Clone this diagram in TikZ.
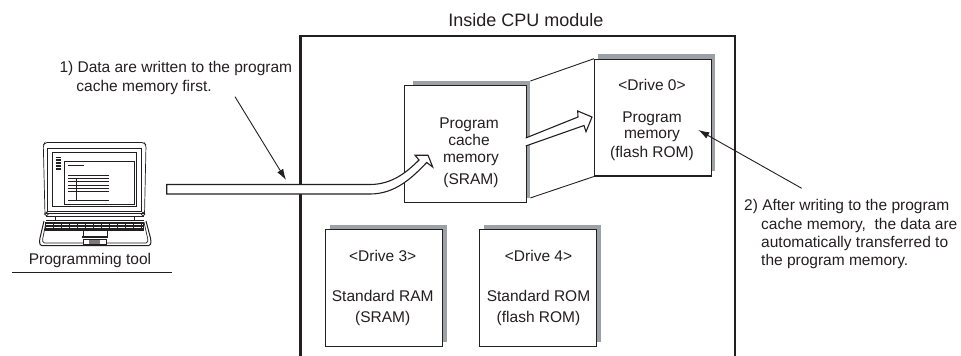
\documentclass[tikz,border=0pt]{standalone}
\usepackage{fontspec}
\setmainfont{Liberation Sans}
\usetikzlibrary{arrows.meta}
\definecolor{ink}{HTML}{231F20}
\definecolor{shade}{HTML}{9BA1A6}
\tikzset{
  x=1pt,y=-1pt,
  every node/.style={text=ink},
  frame/.style={draw=ink,line width=2.3pt},
  memorybox/.style={draw=ink,line width=1.1pt,fill=white,minimum width=#1,minimum height=116.7pt,inner sep=0pt},
  shadowbox/.style={fill=shade,draw=none,minimum width=117pt,minimum height=116.5pt,inner sep=0pt},
  caption/.style={font=\fontsize{15.5}{17}\selectfont,align=center,inner sep=0pt},
  note/.style={font=\fontsize{15.5}{18.4}\selectfont,align=left,inner sep=0pt,anchor=north west},
  leader/.style={draw=ink,line width=0.9pt,-{Latex[length=11pt,width=7pt]}},
  thin line/.style={draw=ink,line width=0.9pt},
  hollow/.style={draw=ink,line width=1.1pt,fill=white,line join=miter},
  lap/.style={draw=ink,line width=0.7pt},
  lapthick/.style={draw=ink,line width=1pt}
}
\begin{document}
\begin{tikzpicture}
\useasboundingbox (0,0) rectangle (961,356);
% CPU frame, open at the lower edge of the picture
\node[inner sep=0pt,font=\fontsize{18}{20}\selectfont] (title) at (526,20.2) {Inside CPU module};
\coordinate (c1) at (300.5,356);
\coordinate (c2) at (300.5,36);
\coordinate (c3) at (735,36);
\coordinate (c4) at (735,356);
\draw[frame] (c1) -- (c2) -- (c3) -- (c4);
% shadows
\node[shadowbox,anchor=north west] (s1) at (413,81) {};
\node[shadowbox,anchor=north west] (s0) at (598,54) {};
\node[shadowbox,anchor=north west] (s3) at (330,225) {};
\node[shadowbox,anchor=north west] (s4) at (484,225) {};
% boxes
\node[memorybox=122pt,anchor=north west] (cache) at (403.7,85) {};
\node[memorybox=116.5pt,anchor=north west] (prog) at (594,58.7) {};
\node[memorybox=116.5pt,anchor=north west] (ram) at (325.3,229.2) {};
\node[memorybox=116.5pt,anchor=north west] (rom) at (479.3,229.2) {};
\draw[thin line] (s1.north east) -- (prog.north west);
\draw[thin line] (s1.south east) -- (prog.south west);
% box text
\node[caption] (tcache) at (469,153) {Program\\cache\\\hspace*{4pt}memory\\[5pt]\hspace*{4pt}(SRAM)};
\node[caption] (tprog) at (652,119.7) {<Drive 0>\\[14.7pt]Program\hspace*{3pt}\\[-0.7pt]memory\\[1.7pt](flash ROM)};
\node[caption] (tram) at (382.7,288) {<Drive 3>\\[23pt]Standard RAM\\[4pt](SRAM)};
\node[caption] (trom) at (538.5,288) {<Drive 4>\\[23pt]Standard ROM\hspace*{4pt}\\[4pt](flash ROM)};
% hollow arrow between memories
\coordinate (h1) at (525.7,138);
\coordinate (h2) at (578,117);
\coordinate (h3) at (577.7,111);
\coordinate (h4) at (592,117);
\coordinate (h5) at (586,131.7);
\coordinate (h6) at (584,125.5);
\coordinate (h7) at (525.7,146);
\draw[hollow] (h1) -- (h2) -- (h3) -- (h4) -- (h5) -- (h6) -- (h7);
% big curved arrow
\coordinate (b1) at (166.7,184.5);
\coordinate (b2) at (370,184.5);
\coordinate (b3) at (419,160);
\coordinate (b4) at (415,155.2);
\coordinate (b5) at (428,155.2);
\coordinate (b6) at (432.7,167);
\coordinate (b7) at (426.7,162.5);
\coordinate (b8) at (370,194);
\coordinate (b9) at (166.7,194);
\draw[hollow] (b1) -- (b2) .. controls (392,184.5) and (407,172) .. (b3) -- (b4) -- (b5) -- (b6) -- (b7) .. controls (412,178) and (395,194) .. (b8) -- (b9) -- cycle;
% notes
\node[note] (n1) at (59.3,61.2) {1) Data are written to the program\\\hspace*{17pt}cache memory first.};
\node[note] (n2) at (744,199.2) {2) After writing to the program\\\hspace*{17pt}cache memory,\ \ the data are\\\hspace*{17pt}automatically transferred to\\\hspace*{17pt}the program memory.};
\coordinate (a1) at (235,96.7);
\coordinate (a2) at (286,180);
\coordinate (a3) at (801.7,188.3);
\coordinate (a4) at (698.3,130);
\draw[leader] (a1) -- (a2);
\draw[leader] (a3) -- (a4);
% laptop
\draw[lap,rounded corners=2pt] (45,215) -- (43.3,145) -- (45,142.5) -- (144,142.5) -- (146,145) -- (144.5,215);
\draw[lap] (47.7,148) rectangle (141.7,211.7);
\draw[lapthick] (52.7,152.7) rectangle (136.7,206);
\draw[lapthick] (64.3,161) rectangle (134.3,204);
\draw[lap] (68.3,165.3) -- (84.3,165.3);
\foreach \yy in {175.7,178.3,181.7,185,188.3,191.7,200} \draw[lap] (68.3,\yy) -- (109.3,\yy);
\draw[lap] (76.3,178) -- (76.3,200);
\foreach \yy in {157.5,159,160.5,162,163.5,165,166.5,168,169.5} \draw[draw=ink,line width=0.7pt] (56,\yy) -- (61,\yy);
\draw[lap] (46,213) -- (144,213);
\draw[lap] (46.5,214) circle (1.8pt);
\draw[lap] (143,214) circle (1.8pt);
\draw[lap] (46,216) -- (144,216);
\draw[lap] (46,220) -- (144,220);
\draw[lap] (55,216) -- (55,220);
\draw[lap] (134,216) -- (134,220);
\fill[ink] (45,221.5) rectangle (144,230.5);
\foreach \yy in {224.5,227.5} \draw[white,line width=0.5pt,dash pattern=on 7pt off 1pt] (46,\yy) -- (143,\yy);
\draw[lapthick,rounded corners=1.5pt] (44,221) -- (39.5,240) -- (40,245.5) -- (150.5,245.5) -- (151,240) -- (146,221);
\draw[lap,rounded corners=1.5pt] (46,222) -- (42.5,240) -- (43,243) -- (147.5,243) -- (148,240) -- (144,222);
\draw[lap] (83,231) -- (83,238) (107,231) -- (107,238);
\fill[ink] (81.7,235.8) rectangle (108,238);
\draw[lap,fill=white] (83,239.5) rectangle (106,244);
\fill[ink!60] (89,240) rectangle (100,244);
\node[caption] (tool) at (90,260.5) {Programming tool};
\coordinate (u1) at (12,272.7);
\coordinate (u2) at (172,272.7);
\draw[thin line] (u1) -- (u2);
\end{tikzpicture}
\end{document}
